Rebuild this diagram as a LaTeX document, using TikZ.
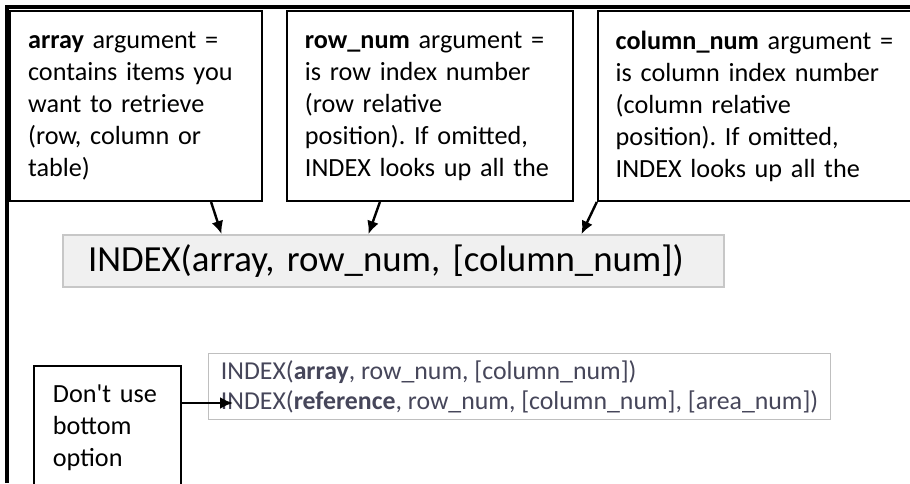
\documentclass[tikz,border=0pt]{standalone}
\usepackage{fontspec}
\setmainfont{Carlito}
\usetikzlibrary{arrows.meta}
\frenchspacing

\definecolor{tipgray}{RGB}{70,70,90}

\begin{document}
\begin{tikzpicture}[x=1pt,y=-1pt]
    \tikzstyle{block} = [draw, rectangle, line width=1.8pt, minimum height=190pt, inner xsep=18pt, align=left, anchor=north west, font={\fontsize{26.2}{32}\selectfont}];
    \tikzstyle{line} = [draw, -{Latex[length=13pt,width=12pt]}, line width=2.4pt];
    \useasboundingbox (0,0) rectangle (910,483);
    \clip (0,0) rectangle (910,483);
    \draw[line width=4pt] (7,483) -- (7,7) -- (910,7);
    \matrix[anchor=north west, inner sep=0pt, column sep=23pt] at (9,10)
    {
        \node[block, text width=216pt] (arr) {\textbf{array} argument =\\contains items you\\want to retrieve\\(row, column or\\table)}; &
        \node[block, text width=250pt] (row) {\textbf{row\_num} argument =\\is row index number\\(row relative\\position). If omitted,\\INDEX looks up all the}; &
        \node[block, text width=304pt] (col) {\textbf{column\_num} argument =\\is column index number\\(column relative\\position). If omitted,\\INDEX looks up all the}; \\
    };
    \node[draw=black!22, fill=black!6, line width=2pt, anchor=north west, minimum height=52pt, inner xsep=25pt, text width=611pt, align=left, font={\fontsize{36.8}{44}\selectfont}] (fn) at (62,234) {INDEX(array, row\_num, [column\_num])};
    \node[draw=black!25, fill=white, line width=1.2pt, anchor=north west, minimum width=622pt, minimum height=66pt, align=left, text=tipgray, font={\fontsize{25.8}{30}\selectfont}] (tip) at (208,353) {INDEX(\textbf{array}, row\_num, [column\_num])\\INDEX(\textbf{reference}, row\_num, [column\_num], [area\_num])};
    \node[block, minimum height=0pt, inner ysep=19pt, inner xsep=19pt, text width=109pt] (note) at (33,365) {Don\textquotesingle t use\\bottom\\option};
    \coordinate (tipref) at (233,403);
    \tikzstyle{every path}=[line]
    \path ([xshift=75pt]arr.south) -- ([xshift=-172pt]fn.north);
    \path ([xshift=-50pt]row.south) -- ([xshift=-25pt]fn.north);
    \path (col.south west) -- ([xshift=188pt]fn.north);
    \path (note.east |- tipref) -- (tipref);
\end{tikzpicture}
\end{document}
